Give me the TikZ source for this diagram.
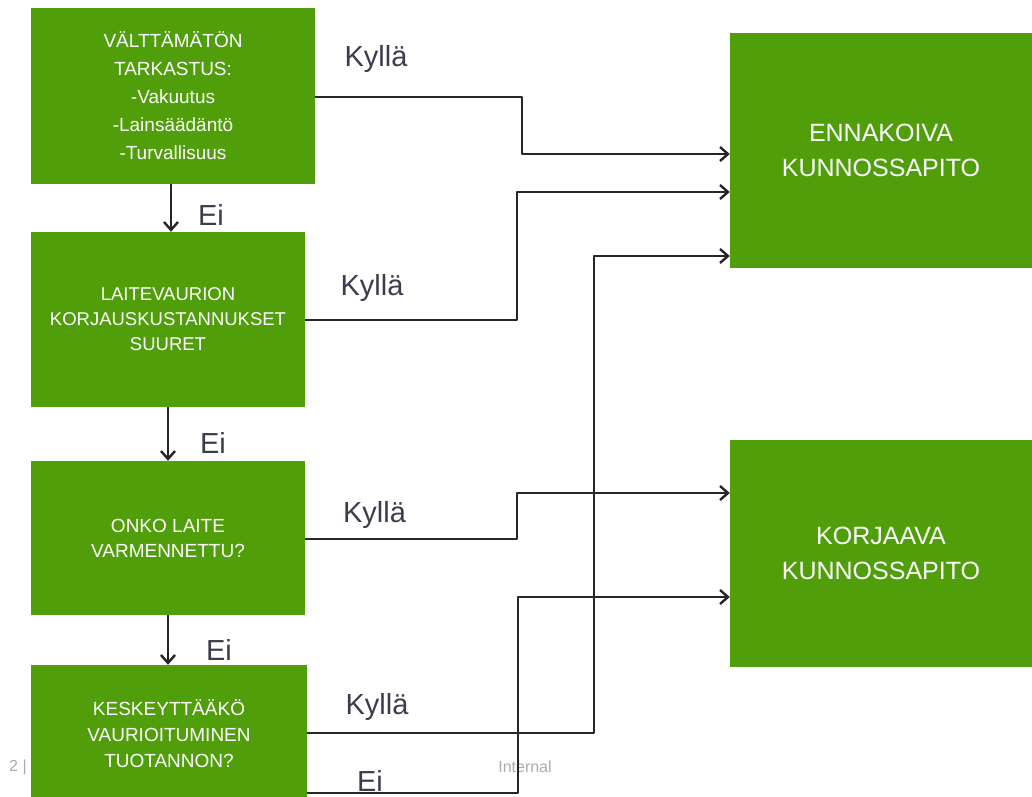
\documentclass[tikz,border=0pt]{standalone}
\usepackage{fontspec}
\setmainfont{Liberation Sans}
\usetikzlibrary{arrows.meta}
\definecolor{boxgreen}{RGB}{80,158,10}
\definecolor{lbl}{RGB}{60,60,78}
\definecolor{foot}{RGB}{170,170,175}
\begin{document}
\begin{tikzpicture}[x=1pt,y=-1pt,
  box/.style={fill=boxgreen, draw=none, text=white, align=center, inner sep=0pt},
  conn/.style={draw=black!85, line width=2.4pt, line join=round},
  arr/.style={conn, -{Straight Barb[length=8pt,width=14pt]}},
  lab/.style={text=lbl, font=\fontsize{29}{30}\selectfont, anchor=base, inner sep=0pt},
  ftr/.style={text=foot, font=\fontsize{16}{16}\selectfont, inner sep=0pt}]
\clip (0,0) rectangle (1032,796);
\fill[white] (0,0) rectangle (1032,796);

% footer
\node[ftr, anchor=west] (pg) at (9,767) {2 |};
\node[ftr] (int) at (525,767) {Internal};

% boxes
\node[box, minimum width=284pt, minimum height=176pt, font=\fontsize{19}{28}\selectfont] (b1) at (173,96)
  {VÄLTTÄMÄTÖN\\TARKASTUS:\\-Vakuutus\\-Lainsäädäntö\\-Turvallisuus};
\node[box, minimum width=274pt, minimum height=175pt, font=\fontsize{18.5}{25}\selectfont] (b2) at (168,319.5)
  {LAITEVAURION\\KORJAUSKUSTANNUKSET\\SUURET};
\node[box, minimum width=274pt, minimum height=154pt, font=\fontsize{19}{25}\selectfont] (b3) at (168,538)
  {ONKO LAITE\\VARMENNETTU?};
\node[box, minimum width=276pt, minimum height=137pt, font=\fontsize{19}{26}\selectfont] (b4) at (169,733.5)
  {KESKEYTTÄÄKÖ\\VAURIOITUMINEN\\TUOTANNON?};
\node[box, minimum width=302pt, minimum height=235pt, font=\fontsize{25}{35}\selectfont] (e) at (881,150.5)
  {ENNAKOIVA\\KUNNOSSAPITO};
\node[box, minimum width=302pt, minimum height=227pt, font=\fontsize{25}{35}\selectfont] (k) at (881,553.5)
  {KORJAAVA\\KUNNOSSAPITO};

% vertical "Ei" arrows
\draw[arr] (b1.south -| 171,0) -- (b2.north -| 171,0);
\draw[arr] (b2.south -| 168,0) -- (b3.north -| 168,0);
\draw[arr] (b3.south -| 168,0) -- (b4.north -| 168,0);

% connectors to the right boxes
\draw[arr] (b1.east |- 0,97) -- (522,97) -- (522,154) -- (e.west |- 0,154);
\draw[arr] (b2.east |- 0,320) -- (517,320) -- (517,192) -- (e.west |- 0,192);
\draw[arr] (b3.east |- 0,539) -- (517,539) -- (517,493) -- (k.west |- 0,493);
\draw[arr] (b4.east |- 0,733) -- (594,733) -- (594,256) -- (e.west |- 0,256);
\draw[arr] (b4.east |- 0,793) -- (518,793) -- (518,597) -- (k.west |- 0,597);

% labels
\node[lab] (y1) at (376,66) {Kyllä};
\node[lab] (y2) at (372,295) {Kyllä};
\node[lab] (y3) at (374.5,522) {Kyllä};
\node[lab] (y4) at (377,714) {Kyllä};
\node[lab] (n1) at (211,225) {Ei};
\node[lab] (n2) at (213,453) {Ei};
\node[lab] (n3) at (219,660) {Ei};
\node[lab] (n4) at (370,791) {Ei};
\end{tikzpicture}
\end{document}
